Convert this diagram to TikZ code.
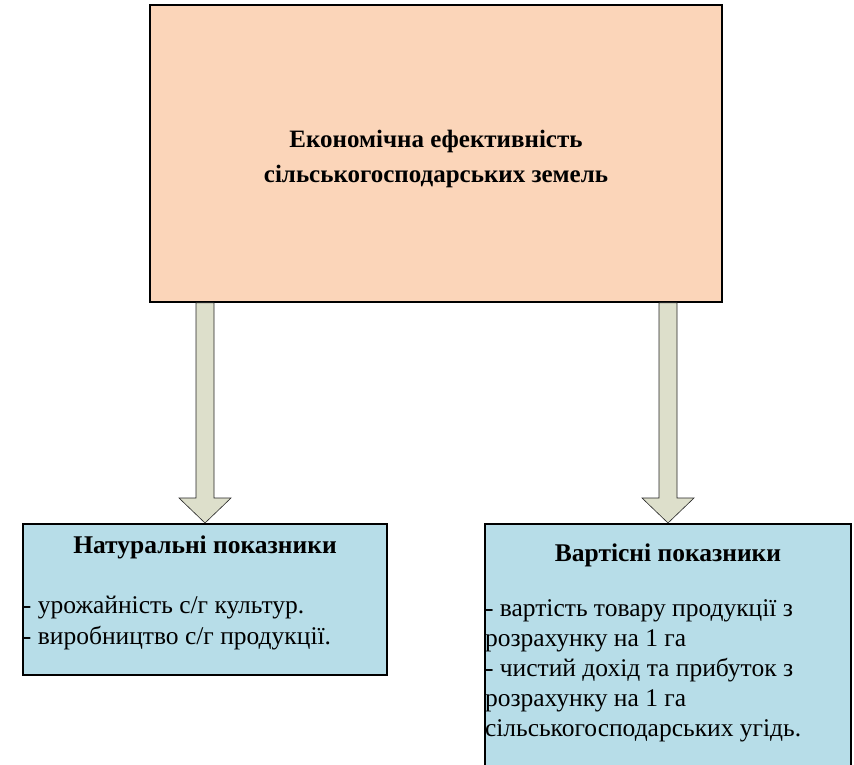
\documentclass[tikz,border=0pt]{standalone}
\usepackage{fontspec}
\setmainfont{Liberation Serif}
\usetikzlibrary{calc}
\definecolor{peach}{HTML}{FBD5B9}
\definecolor{paleblue}{HTML}{B7DDE8}
\definecolor{olivegray}{HTML}{DDDFCB}
\tikzset{
	mainbox/.style={draw=black, line width=1.6pt, fill=peach, inner sep=0pt},
	groupbox/.style={draw=black, line width=1.6pt, fill=paleblue, inner sep=0pt},
	blockarrow/.style={draw=black!85, line width=0.6pt, fill=olivegray, line join=miter}
}
\newcommand{\downblock}[2]{%
	\draw [blockarrow] let \p1=($(#1.south -| #2.north)$), \p2=(#2.north) in
		(\x2-9pt,\y1) -- (\x2+9pt,\y1) -- (\x2+9pt,\y2+25pt) -- (\x2+26pt,\y2+25pt)
		-- (\x2,\y2) -- (\x2-26pt,\y2+25pt) -- (\x2-9pt,\y2+25pt) -- cycle;}
\begin{document}
\begin{tikzpicture}[x=1pt,y=-1pt]
	\useasboundingbox [fill=white] (0,0) rectangle (854,765);
	\node [mainbox, minimum width=572pt, minimum height=297pt] (econ) at (436,153.5)
		{\parbox{572pt}{\vspace*{10pt}\centering\bfseries\fontsize{25}{35}\selectfont Економічна ефективність\\ сільськогосподарських земель}};
	\node [groupbox, anchor=north] (natural) at (205,523)
		{\parbox[c][151pt][t]{364pt}{\fontsize{25.5}{31}\selectfont\vspace*{12pt}%
			{\centering\bfseries Натуральні показники\par}\vspace{29pt}%
			\raggedright - урожайність с/г культур.\\ - виробництво с/г продукції.}};
	\node [groupbox, anchor=north] (value) at (668,523)
		{\parbox[c][260pt][t]{366pt}{\fontsize{25.5}{30}\selectfont\vspace*{20pt}%
			{\centering\bfseries Вартісні показники\par}\vspace{25pt}%
			\raggedright - вартість товару продукції з\\ розрахунку на 1 га\\ - чистий дохід та прибуток з\\ розрахунку на 1 га\\ сільськогосподарських угідь.}};
	\downblock{econ}{natural}
	\downblock{econ}{value}
\end{tikzpicture}
\end{document}
